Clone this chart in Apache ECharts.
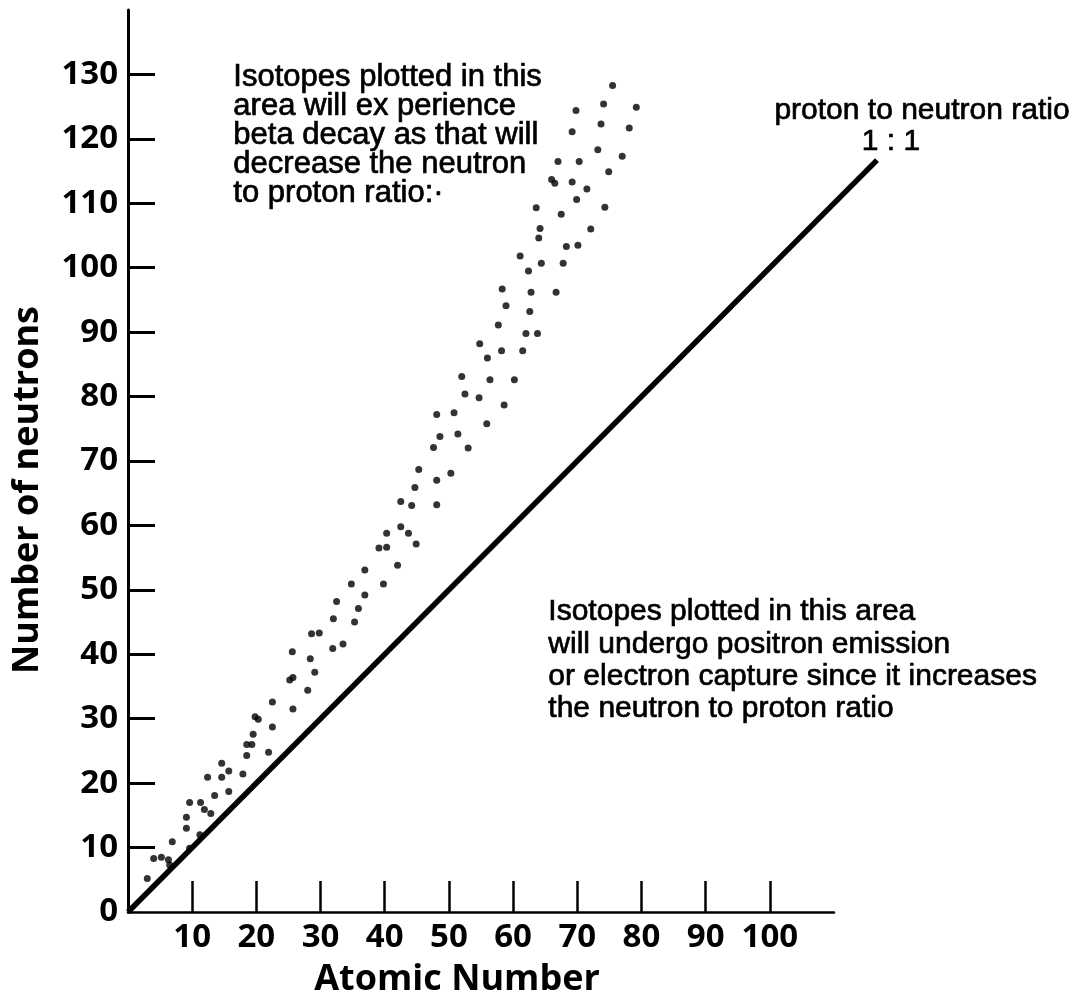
<!DOCTYPE html>
<html>
<head>
<meta charset="utf-8">
<script src="https://cdn.jsdelivr.net/npm/echarts@6/dist/echarts.min.js"></script>
<style>
html,body{margin:0;padding:0;background:#fff;}
#chart{width:1079px;height:1003px;}
</style>
</head>
<body>
<div id="chart"></div>
<script>
// ---- data ----
const atomicNumbers = [3.0,4.0,5.2,6.3,6.5,6.9,9.6,11.2,9.1,9.1,9.6,11.3,11.9,12.9,12.4,13.5,14.6,14.6,15.7,15.7,17.9,18.5,18.5,19.3,19.5,19.8,20.3,21.9,22.5,22.5,25.2,25.7,25.7,25.6,28.0,28.4,29.1,28.6,29.8,31.9,33.5,32.0,32.5,35.3,35.9,34.8,36.9,36.9,39.8,39.1,40.3,42.0,40.3,42.5,43.7,44.9,42.5,44.2,48.1,44.7,45.3,48.1,50.3,47.6,48.6,51.4,53.0,48.1,50.8,55.9,52.5,54.7,58.6,52.0,56.4,60.2,56.0,54.8,58.2,61.5,62.0,63.8,57.7,58.9,62.6,58.3,62.8,66.7,61.1,62.4,64.4,67.8,64.0,64.2,68.3,70.1,72.1,63.6,67.5,69.9,74.3,66.0,66.5,69.2,71.5,74.9,67.0,70.3,73.2,77.0,69.2,73.7,78.1,69.8,74.1,79.2,75.5];
const neutronNumbers = [5.2,8.3,8.5,8.1,7.3,10.9,9.9,12.0,13.0,14.7,17.0,17.0,15.9,15.3,20.9,18.1,23.1,20.9,21.9,18.7,21.4,24.3,26.0,26.0,27.6,30.3,29.9,24.8,28.7,32.6,36.0,36.4,31.5,40.4,34.4,39.3,37.2,43.2,43.3,40.9,41.6,45.5,48.2,45.0,47.1,50.9,49.2,53.1,50.9,56.5,56.6,53.8,58.8,59.8,58.8,57.1,63.7,63.1,63.2,65.9,68.7,67.0,68.1,72.1,73.8,74.2,72.0,77.2,77.5,75.8,80.4,79.8,78.7,83.1,82.6,82.6,86.0,88.2,87.1,87.1,89.8,89.8,91.1,94.1,93.2,96.7,96.2,96.2,101.8,99.5,100.7,100.7,104.6,106.1,103.3,103.5,106.0,109.3,108.3,110.6,109.4,113.7,113.1,113.3,112.2,114.9,116.5,116.5,118.3,117.3,121.1,122.3,121.7,124.4,125.4,124.9,128.3];
const ratioLineX = [0, 116.7];
const ratioLineY = [0, 116.7];
const xTickValues = [10,20,30,40,50,60,70,80,90,100];
const yTickValues = [10,20,30,40,50,60,70,80,90,100,110,120,130];
const yLabelValues = [0,10,20,30,40,50,60,70,80,90,100,110,120,130];
const xAxisTitle = 'Atomic Number';
const yAxisTitle = 'Number of neutrons';
const upperNote = 'Isotopes plotted in this\narea will ex perience\nbeta decay as that will\ndecrease the neutron\nto proton ratio:·';
const lowerNote = 'Isotopes plotted in this area\nwill undergo positron emission\nor electron capture since it increases\nthe neutron to proton ratio';
const ratioNote1 = 'proton to neutron ratio';
const ratioNote2 = '1 : 1';

const isotopePoints = atomicNumbers.map((x, i) => [x, neutronNumbers[i]]);
const linePoints = ratioLineX.map((x, i) => [x, ratioLineY[i]]);

const tickFont = '"Open Sans", "DejaVu Sans", sans-serif';
const titleFont = '"Open Sans", "DejaVu Sans", sans-serif';
const noteFont = '"Liberation Sans", Arial, sans-serif';

// plot scale: 706 px for 110 units on x
const pxPerUnit = 706 / 110;
const lineGridXMax = 120;
const lineGridRight = 1079 - 128 - lineGridXMax * pxPerUnit;

const chart = echarts.init(document.getElementById('chart'), null, {renderer: 'canvas'});
chart.setOption({
  backgroundColor: '#ffffff',
  animation: false,
  grid: [
    {left: 128, right: 245, top: 10, bottom: 91, containLabel: false, outerBoundsMode: 'none'},
    {left: 128, right: lineGridRight, top: 10, bottom: 91, containLabel: false, outerBoundsMode: 'none'}
  ],
  xAxis: [{
    gridIndex: 0, type: 'value', min: 0, max: 110, interval: 10,
    axisLine: {show: true, onZero: false, lineStyle: {color: '#000', width: 2.5}},
    axisTick: {show: true, inside: true, length: 31, customValues: xTickValues, lineStyle: {color: '#000', width: 2.5}},
    axisLabel: {show: true, margin: 9, customValues: xTickValues, color: '#000', fontFamily: tickFont, fontSize: 33, fontWeight: 'bold'},
    splitLine: {show: false}
  }, {
    gridIndex: 1, type: 'value', min: 0, max: lineGridXMax, show: false
  }],
  yAxis: [{
    gridIndex: 0, type: 'value', min: 0, max: 140, interval: 10,
    axisLine: {show: true, onZero: false, lineStyle: {color: '#000', width: 3}},
    axisTick: {show: true, inside: true, length: 27, customValues: yTickValues, lineStyle: {color: '#000', width: 3}},
    axisLabel: {show: true, margin: 10, customValues: yLabelValues, color: '#000', fontFamily: tickFont, fontSize: 33, fontWeight: 'bold'},
    splitLine: {show: false}
  }, {
    gridIndex: 1, type: 'value', min: 0, max: 140, show: false
  }],
  series: [
    {
      type: 'line', xAxisIndex: 1, yAxisIndex: 1, data: linePoints, showSymbol: false, symbol: 'none',
      lineStyle: {color: '#000', width: 5.5}, silent: true, z: 3
    },
    {
      type: 'scatter', xAxisIndex: 0, yAxisIndex: 0, data: isotopePoints, symbol: 'circle', symbolSize: 7,
      itemStyle: {color: '#000'}, silent: true, z: 4
    }
  ],
  graphic: [
    {type: 'text', left: 233, top: 62, style: {text: upperNote, fill: '#000', stroke: '#000', lineWidth: 0.7, font: '31px ' + noteFont, lineHeight: 29}},
    {type: 'text', left: 548, top: 596, style: {text: lowerNote, fill: '#000', stroke: '#000', lineWidth: 0.7, font: '30px ' + noteFont, lineHeight: 32.3}},
    {type: 'text', x: 922, y: 111, style: {text: ratioNote1, fill: '#000', stroke: '#000', lineWidth: 0.7, font: '30px ' + noteFont, align: 'center', verticalAlign: 'middle'}},
    {type: 'text', x: 891, y: 142, style: {text: ratioNote2, fill: '#000', stroke: '#000', lineWidth: 0.7, font: '30px ' + noteFont, align: 'center', verticalAlign: 'middle'}},
    {type: 'text', x: 457, y: 980, style: {text: xAxisTitle, fill: '#000', font: 'bold 36px ' + titleFont, align: 'center', verticalAlign: 'middle'}},
    {type: 'text', x: 28, y: 490, rotation: Math.PI / 2, style: {text: yAxisTitle, fill: '#000', font: 'bold 36px ' + titleFont, align: 'center', verticalAlign: 'middle'}}
  ]
});
</script>
</body>
</html>
